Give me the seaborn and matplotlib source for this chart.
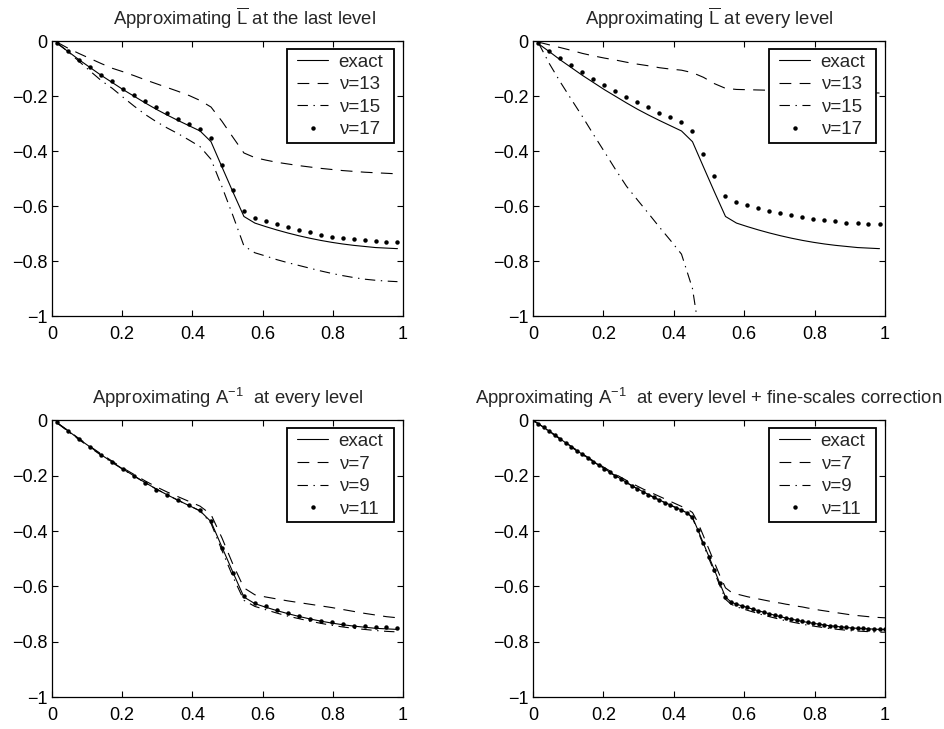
import numpy as np
import pandas as pd
import matplotlib
matplotlib.use('Agg')
import matplotlib.pyplot as plt
from matplotlib.ticker import FuncFormatter
from matplotlib.path import Path
import seaborn as sns

nan = np.nan

# sample points: 32 cell centres (first three panels), 65 fine nodes (last panel)
x_coarse = [0.0156, 0.0469, 0.0781, 0.1094, 0.1406, 0.1719, 0.2031, 0.2344,
            0.2656, 0.2969, 0.3281, 0.3594, 0.3906, 0.4219, 0.4531, 0.4844,
            0.5156, 0.5469, 0.5781, 0.6094, 0.6406, 0.6719, 0.7031, 0.7344,
            0.7656, 0.7969, 0.8281, 0.8594, 0.8906, 0.9219, 0.9531, 0.9844]
x_fine = [0.0, 0.0156, 0.0312, 0.0469, 0.0625, 0.0781, 0.0938, 0.1094,
          0.125, 0.1406, 0.1562, 0.1719, 0.1875, 0.2031, 0.2188, 0.2344,
          0.25, 0.2656, 0.2812, 0.2969, 0.3125, 0.3281, 0.3438, 0.3594,
          0.375, 0.3906, 0.4062, 0.4219, 0.4375, 0.4531, 0.4688, 0.4844,
          0.5, 0.5156, 0.5312, 0.5469, 0.5625, 0.5781, 0.5938, 0.6094,
          0.625, 0.6406, 0.6562, 0.6719, 0.6875, 0.7031, 0.7188, 0.7344,
          0.75, 0.7656, 0.7812, 0.7969, 0.8125, 0.8281, 0.8438, 0.8594,
          0.875, 0.8906, 0.9062, 0.9219, 0.9375, 0.9531, 0.9688, 0.9844,
          1.0]

exact = [-0.010, -0.039, -0.069, -0.097, -0.125, -0.151, -0.177, -0.201,
         -0.225, -0.248, -0.269, -0.289, -0.308, -0.327, -0.366, -0.458,
         -0.549, -0.638, -0.662, -0.675, -0.687, -0.698, -0.708, -0.717,
         -0.725, -0.732, -0.738, -0.743, -0.747, -0.751, -0.753, -0.755]

# approximating L-bar at the last level
last_nu13 = [-0.005, -0.027, -0.046, -0.064, -0.082, -0.099, -0.112, -0.126,
             -0.141, -0.155, -0.169, -0.183, -0.198, -0.216, -0.240, -0.292,
             -0.350, -0.407, -0.424, -0.433, -0.441, -0.447, -0.453, -0.458,
             -0.463, -0.467, -0.471, -0.474, -0.477, -0.479, -0.481, -0.483]
last_nu15 = [-0.007, -0.040, -0.075, -0.110, -0.144, -0.172, -0.205, -0.237,
             -0.267, -0.293, -0.316, -0.337, -0.360, -0.384, -0.430, -0.530,
             -0.635, -0.745, -0.770, -0.782, -0.795, -0.806, -0.816, -0.826,
             -0.836, -0.845, -0.853, -0.860, -0.866, -0.870, -0.873, -0.875]
last_nu17 = [-0.007, -0.038, -0.068, -0.096, -0.122, -0.147, -0.173, -0.195,
             -0.219, -0.241, -0.262, -0.282, -0.301, -0.319, -0.353, -0.449,
             -0.542, -0.618, -0.645, -0.655, -0.667, -0.678, -0.687, -0.696,
             -0.704, -0.712, -0.716, -0.721, -0.724, -0.727, -0.730, -0.732]

# approximating L-bar at every level
every_nu13 = [-0.004, -0.014, -0.024, -0.034, -0.045, -0.054, -0.062, -0.069,
              -0.077, -0.084, -0.090, -0.097, -0.102, -0.106, -0.115, -0.132,
              -0.155, -0.172, -0.176, -0.177, -0.178, -0.179, -0.180, -0.181,
              -0.182, -0.183, -0.184, -0.185, -0.186, -0.187, -0.188, -0.189]
every_nu15 = [-0.007, -0.083, -0.150, -0.213, -0.275, -0.340, -0.403, -0.467,
              -0.528, -0.578, -0.627, -0.677, -0.725, -0.775, -0.900, -1.160,
              nan, nan, nan, nan, nan, nan, nan, nan,
              nan, nan, nan, nan, nan, nan, nan, nan]
every_nu17 = [-0.007, -0.035, -0.062, -0.086, -0.113, -0.137, -0.160, -0.181,
              -0.202, -0.222, -0.241, -0.260, -0.277, -0.293, -0.326, -0.412,
              -0.492, -0.565, -0.585, -0.597, -0.608, -0.617, -0.624, -0.631,
              -0.640, -0.647, -0.652, -0.656, -0.660, -0.662, -0.664, -0.666]

# approximating A^-1 at every level
ainv_nu7 = [-0.010, -0.038, -0.067, -0.095, -0.122, -0.148, -0.173, -0.196,
            -0.219, -0.240, -0.259, -0.276, -0.293, -0.310, -0.340, -0.425,
            -0.520, -0.605, -0.630, -0.638, -0.645, -0.652, -0.658, -0.664,
            -0.670, -0.676, -0.683, -0.690, -0.697, -0.703, -0.709, -0.713]
ainv_nu9 = [-0.011, -0.041, -0.071, -0.099, -0.127, -0.153, -0.178, -0.202,
            -0.226, -0.248, -0.269, -0.289, -0.308, -0.327, -0.372, -0.470,
            -0.565, -0.650, -0.672, -0.684, -0.696, -0.707, -0.716, -0.725,
            -0.733, -0.740, -0.746, -0.751, -0.755, -0.759, -0.762, -0.764]
ainv_nu11 = [-0.008, -0.039, -0.069, -0.097, -0.125, -0.151, -0.177, -0.201,
             -0.226, -0.250, -0.270, -0.288, -0.306, -0.324, -0.364, -0.461,
             -0.551, -0.636, -0.660, -0.672, -0.684, -0.696, -0.708, -0.716,
             -0.724, -0.730, -0.736, -0.741, -0.744, -0.747, -0.748, -0.750]

# A^-1 at every level + fine-scales correction (fine grid)
exact_fine = [0.000, -0.013, -0.026, -0.040, -0.054, -0.068, -0.082, -0.096,
              -0.110, -0.123, -0.136, -0.149, -0.162, -0.175, -0.188, -0.200,
              -0.212, -0.224, -0.236, -0.247, -0.258, -0.268, -0.278, -0.288,
              -0.297, -0.306, -0.315, -0.324, -0.334, -0.350, -0.397, -0.445,
              -0.493, -0.541, -0.590, -0.638, -0.656, -0.664, -0.670, -0.676,
              -0.682, -0.688, -0.693, -0.699, -0.704, -0.709, -0.714, -0.718,
              -0.722, -0.726, -0.730, -0.733, -0.736, -0.739, -0.742, -0.744,
              -0.746, -0.748, -0.750, -0.751, -0.752, -0.753, -0.754, -0.755,
              -0.755]
corr_nu7 = [0.000, -0.013, -0.026, -0.040, -0.053, -0.067, -0.081, -0.095,
            -0.108, -0.121, -0.134, -0.147, -0.159, -0.171, -0.183, -0.195,
            -0.206, -0.217, -0.228, -0.238, -0.248, -0.257, -0.266, -0.275,
            -0.284, -0.293, -0.302, -0.311, -0.320, -0.333, -0.370, -0.418,
            -0.466, -0.514, -0.562, -0.605, -0.620, -0.627, -0.632, -0.637,
            -0.641, -0.645, -0.649, -0.653, -0.657, -0.660, -0.664, -0.667,
            -0.671, -0.674, -0.678, -0.681, -0.685, -0.688, -0.691, -0.694,
            -0.697, -0.700, -0.703, -0.705, -0.707, -0.709, -0.711, -0.712,
            -0.713]
corr_nu9 = [0.000, -0.013, -0.027, -0.041, -0.055, -0.069, -0.083, -0.097,
            -0.111, -0.124, -0.137, -0.150, -0.163, -0.176, -0.189, -0.201,
            -0.213, -0.225, -0.237, -0.248, -0.259, -0.269, -0.279, -0.289,
            -0.298, -0.307, -0.316, -0.325, -0.335, -0.353, -0.402, -0.451,
            -0.500, -0.549, -0.598, -0.646, -0.664, -0.673, -0.680, -0.686,
            -0.692, -0.698, -0.704, -0.709, -0.714, -0.719, -0.724, -0.728,
            -0.732, -0.736, -0.740, -0.743, -0.746, -0.749, -0.752, -0.754,
            -0.756, -0.758, -0.760, -0.761, -0.762, -0.763, -0.764, -0.765,
            -0.765]
corr_nu11 = [0.000, -0.013, -0.026, -0.040, -0.054, -0.068, -0.082, -0.096,
             -0.110, -0.123, -0.136, -0.149, -0.162, -0.175, -0.188, -0.200,
             -0.212, -0.224, -0.236, -0.247, -0.258, -0.268, -0.278, -0.288,
             -0.297, -0.306, -0.315, -0.324, -0.334, -0.349, -0.396, -0.444,
             -0.492, -0.540, -0.589, -0.637, -0.655, -0.663, -0.669, -0.675,
             -0.681, -0.687, -0.692, -0.698, -0.703, -0.708, -0.713, -0.717,
             -0.721, -0.725, -0.729, -0.732, -0.735, -0.738, -0.741, -0.743,
             -0.745, -0.747, -0.749, -0.750, -0.751, -0.752, -0.753, -0.754,
             -0.754]

x_ticks = [0, 0.2, 0.4, 0.6, 0.8, 1]
y_ticks = [-1, -0.8, -0.6, -0.4, -0.2, 0]

titles = [r'Approximating $\overline{\mathrm{L}}$ at the last level',
          r'Approximating $\overline{\mathrm{L}}$ at every level',
          r'Approximating A$^{\mathrm{-1}}$  at every level',
          r'Approximating A$^{\mathrm{-1}}$  at every level + fine-scales correction']

panels = [
    (x_coarse, [(exact, 'exact', 'solid'), (last_nu13, '\u03bd=13', 'dash'),
                (last_nu15, '\u03bd=15', 'dashdot'), (last_nu17, '\u03bd=17', 'dots')]),
    (x_coarse, [(exact, 'exact', 'solid'), (every_nu13, '\u03bd=13', 'dash'),
                (every_nu15, '\u03bd=15', 'dashdot'), (every_nu17, '\u03bd=17', 'dots')]),
    (x_coarse, [(exact, 'exact', 'solid'), (ainv_nu7, '\u03bd=7', 'dash'),
                (ainv_nu9, '\u03bd=9', 'dashdot'), (ainv_nu11, '\u03bd=11', 'dots')]),
    (x_fine, [(exact_fine, 'exact', 'solid'), (corr_nu7, '\u03bd=7', 'dash'),
              (corr_nu9, '\u03bd=9', 'dashdot'), (corr_nu11, '\u03bd=11', 'dots')]),
]

sns.set_style('ticks')
plt.rcParams['font.family'] = ['Liberation Sans', 'DejaVu Sans']
plt.rcParams['mathtext.fontset'] = 'custom'
plt.rcParams['mathtext.rm'] = 'Liberation Sans'
plt.rcParams['lines.scale_dashes'] = False
plt.rcParams['xtick.direction'] = 'in'
plt.rcParams['ytick.direction'] = 'in'
plt.rcParams['xtick.top'] = True
plt.rcParams['ytick.right'] = True

styles = {'solid': '-', 'dash': (0, (8.5, 6.0)), 'dashdot': (0, (7.5, 4.0, 1.0, 4.0))}

LEG_DX = 6.0  # extra horizontal padding of the legend frame, pixels


def wide_box(x0, y0, width, height, mutation_size):
    # matlab-like legend frame: more room left/right than top/bottom
    return Path([(x0 - LEG_DX, y0), (x0 + width + LEG_DX, y0),
                 (x0 + width + LEG_DX, y0 + height), (x0 - LEG_DX, y0 + height),
                 (x0 - LEG_DX, y0)], closed=True)


fig = plt.figure(figsize=(9.45, 7.29), dpi=100)
rects = [(0.055, 0.5665, 0.3714, 0.3772), (0.564, 0.5665, 0.3725, 0.3772),
         (0.055, 0.0435, 0.3714, 0.3800), (0.564, 0.0435, 0.3725, 0.3800)]

fmt = FuncFormatter(lambda v, p: '0' if abs(v) < 1e-9 else ('%g' % round(v, 6)).replace('-', '\u2212'))

for i, (x, series) in enumerate(panels):
    ax = fig.add_axes(rects[i])
    for y, label, kind in series:
        df = pd.DataFrame({'x': x, 'y': y}).dropna()
        if kind == 'dots':
            sns.lineplot(data=df, x='x', y='y', ax=ax, color='k', linestyle='none',
                         marker='o', markersize=3.2, markeredgewidth=0,
                         label=label, estimator=None, sort=False)
        else:
            sns.lineplot(data=df, x='x', y='y', ax=ax, color='k', linewidth=0.8,
                         linestyle=styles[kind], label=label, estimator=None, sort=False)
    ax.set_xlim(0, 1)
    ax.set_ylim(-1, 0)
    ax.set_xticks(x_ticks)
    ax.set_yticks(y_ticks)
    ax.xaxis.set_major_formatter(fmt)
    ax.yaxis.set_major_formatter(fmt)
    ax.set_xlabel('')
    ax.set_ylabel('')
    ax.tick_params(axis='both', labelsize=13, length=4, width=0.8, colors='k')
    ax.tick_params(axis='x', pad=7)
    ax.tick_params(axis='y', pad=3)
    for sp in ax.spines.values():
        sp.set_color('k')
        sp.set_linewidth(0.9)
    tx = 0.548 if i == 0 else 0.5
    ax.set_title(titles[i], fontsize=13.3, pad=11.5, x=tx)
    ax_w = rects[i][2] * 945
    leg = ax.legend(loc='upper right', bbox_to_anchor=(1 - 7.0 / ax_w, 1),
                    fontsize=13.5, frameon=True, fancybox=False,
                    edgecolor='k', framealpha=1, borderpad=0.25, labelspacing=0.29,
                    handlelength=1.63, handletextpad=0.57, borderaxespad=0.42,
                    numpoints=1)
    leg.get_frame().set_boxstyle(wide_box)
    leg.get_frame().set_linewidth(1.3)

fig.savefig('out.png', dpi=100)
